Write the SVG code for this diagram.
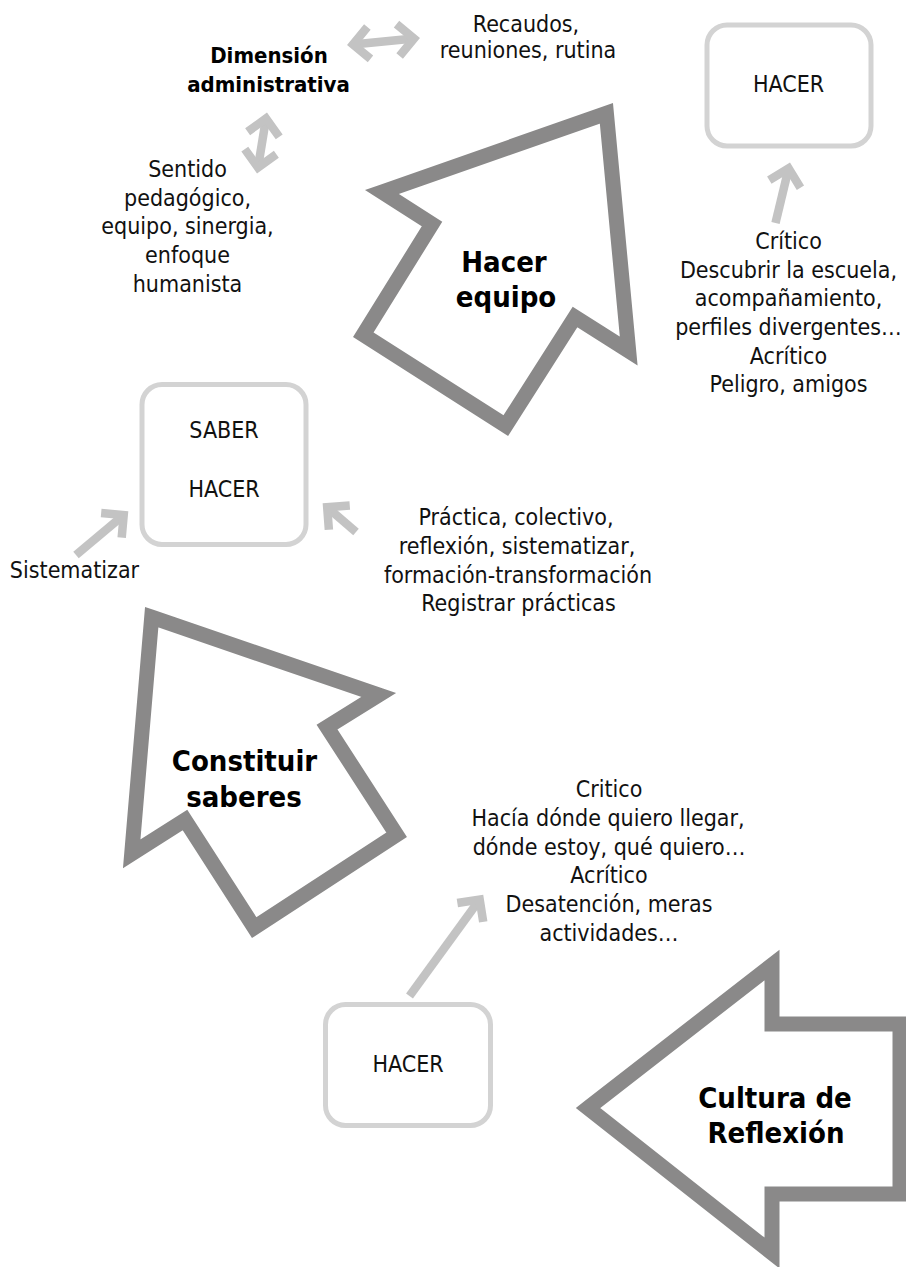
<svg xmlns="http://www.w3.org/2000/svg" width="906" height="1267" viewBox="0 0 906 1267">
<style>
  .t { font-family: "DejaVu Sans Condensed", "DejaVu Sans", sans-serif; font-stretch: condensed; font-size: 23px; fill: #111; text-anchor: middle; }
  .b { font-family: "DejaVu Sans Condensed", "DejaVu Sans", sans-serif; font-stretch: condensed; font-weight: bold; font-size: 29px; fill: #000; text-anchor: middle; }
  .bs { font-size: 22px; }
  .big { fill: none; stroke: #8a8989; stroke-width: 15; stroke-linejoin: miter; stroke-miterlimit: 10; }
  .box { fill: #fff; stroke: #d3d3d3; stroke-width: 5; }
  .con { fill: none; stroke: #c3c3c3; stroke-width: 8.5; }
</style>
<defs>
  <marker id="chev" markerUnits="userSpaceOnUse" orient="auto-start-reverse" overflow="visible" refX="0" refY="0" markerWidth="1" markerHeight="1">
    <path d="M-16,-16 L0,0 L-16,16" fill="none" stroke="#c3c3c3" stroke-width="8.5" stroke-linejoin="miter"/>
  </marker>
</defs>
<rect width="906" height="1267" fill="#fff"/>

<g id="hacer-equipo">
  <polygon class="big" points="382,192 606.4,113.3 628.7,351 575,317 505.8,425.6 363.3,334.7 432,224"/>
  <text class="b"><tspan x="504" y="272">Hacer</tspan><tspan x="506" y="307">equipo</tspan></text>
</g>

<g id="constituir-saberes">
  <polygon class="big" points="151.7,617.2 378.7,695 327,727 396.6,834.7 254.2,927.6 185,820 131.7,853.8"/>
  <text class="b"><tspan x="244.5" y="771">Constituir</tspan><tspan x="244" y="807">saberes</tspan></text>
</g>

<g id="cultura-reflexion">
  <polygon class="big" points="588,1108 772,965 772,1024 900,1024 900,1194 772,1194 772,1253"/>
  <text class="b"><tspan x="775" y="1108">Cultura de</tspan><tspan x="776" y="1143">Reflexión</tspan></text>
</g>

<g id="dimension-administrativa">
  <text class="b bs"><tspan x="269" y="63">Dimensión</tspan><tspan x="268.5" y="92">administrativa</tspan></text>
</g>

<g id="recaudos">
  <text class="t"><tspan x="526" y="32">Recaudos,</tspan><tspan x="528" y="58">reuniones, rutina</tspan></text>
</g>

<g id="sentido">
  <text class="t"><tspan x="187.5" y="177">Sentido</tspan><tspan x="187.5" y="205.5">pedagógico,</tspan><tspan x="187.5" y="234">equipo, sinergia,</tspan><tspan x="187.5" y="263">enfoque</tspan><tspan x="187.5" y="292">humanista</tspan></text>
</g>

<g id="hacer-top">
  <rect class="box" x="707" y="25" width="164" height="121" rx="20"/>
  <text class="t" x="788.5" y="92">HACER</text>
</g>

<g id="critico-top">
  <text class="t"><tspan x="788.5" y="248.5">Crítico</tspan><tspan x="788.5" y="277.5">Descubrir la escuela,</tspan><tspan x="788.5" y="306">acompañamiento,</tspan><tspan x="788.5" y="335">perfiles divergentes…</tspan><tspan x="788.5" y="363.5">Acrítico</tspan><tspan x="788.5" y="392">Peligro, amigos</tspan></text>
</g>

<g id="saber-hacer">
  <rect class="box" x="142" y="384.5" width="164" height="160" rx="20"/>
  <text class="t"><tspan x="224" y="438">SABER</tspan><tspan x="224" y="497">HACER</tspan></text>
</g>

<g id="sistematizar">
  <text class="t" x="74.5" y="578">Sistematizar</text>
</g>

<g id="practica">
  <text class="t"><tspan x="516" y="525">Práctica, colectivo,</tspan><tspan x="517" y="554">reflexión, sistematizar,</tspan><tspan x="518" y="583">formación-transformación</tspan><tspan x="518.5" y="611">Registrar prácticas</tspan></text>
</g>

<g id="critico-bottom">
  <text class="t"><tspan x="609" y="797">Critico</tspan><tspan x="608" y="826">Hacía dónde quiero llegar,</tspan><tspan x="609" y="854.5">dónde estoy, qué quiero…</tspan><tspan x="609" y="883">Acrítico</tspan><tspan x="609" y="912">Desatención, meras</tspan><tspan x="609" y="941">actividades…</tspan></text>
</g>

<g id="hacer-bottom">
  <rect class="box" x="325.5" y="1004.5" width="165" height="121" rx="20"/>
  <text class="t" x="408" y="1072">HACER</text>
</g>

<g id="connectors">
  <path class="con" d="M353,44.5 L414,38.5" marker-start="url(#chev)" marker-end="url(#chev)"/>
  <path class="con" d="M266,118.5 L258,167.5" marker-start="url(#chev)" marker-end="url(#chev)"/>
  <path class="con" d="M775.5,223 L788.6,168.4" marker-end="url(#chev)"/>
  <path class="con" d="M76,555 L123.7,515.1" marker-end="url(#chev)"/>
  <path class="con" d="M356,532 L327.2,507.2" marker-end="url(#chev)"/>
  <path class="con" d="M409.5,996 L479.7,899.5" marker-end="url(#chev)"/>
</g>
</svg>
